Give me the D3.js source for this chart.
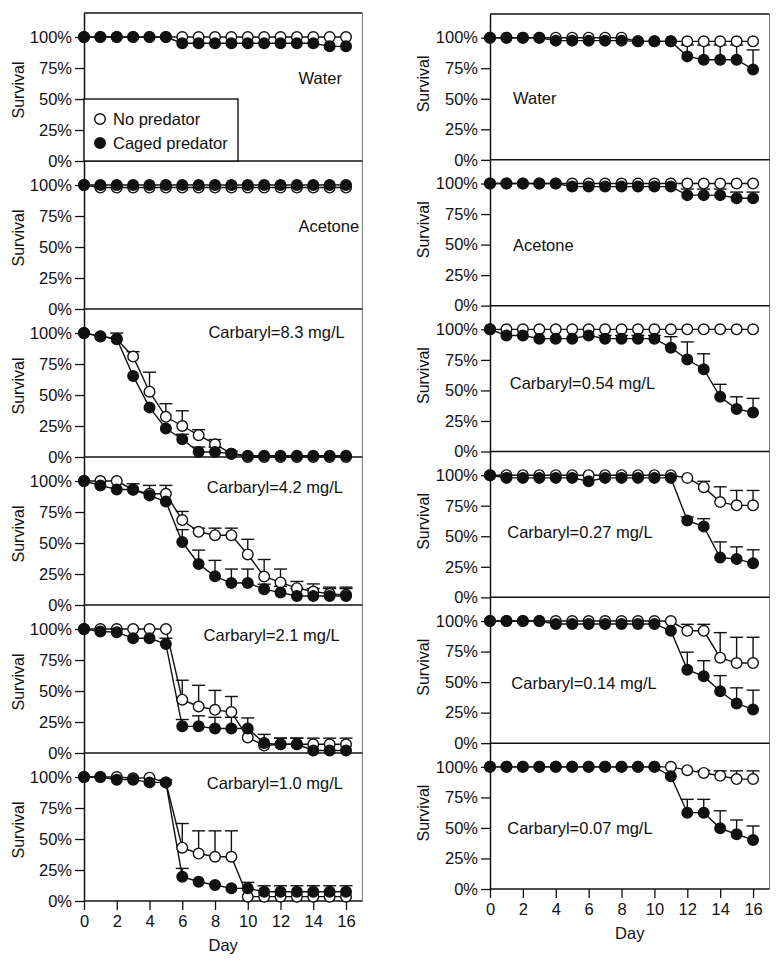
<!DOCTYPE html>
<html>
<head>
<meta charset="utf-8">
<script src="https://d3js.org/d3.v7.min.js"></script>
<style>
  html, body { margin: 0; padding: 0; background: #fff; }
  svg text { font-family: "Liberation Sans", Arial, sans-serif; font-size: 16.5px; fill: #111; }
</style>
</head>
<body>
<div id="root"></div>
<script>
// ---- data (% survival by day) ----
const days = [0, 1, 2, 3, 4, 5, 6, 7, 8, 9, 10, 11, 12, 13, 14, 15, 16];
const yTicks = [0, 25, 50, 75, 100];
const xTicks = [0, 2, 4, 6, 8, 10, 12, 14, 16];
const legendLabels = ["No predator", "Caged predator"];

const leftLabels = ["Water", "Acetone", "Carbaryl=8.3 mg/L", "Carbaryl=4.2 mg/L", "Carbaryl=2.1 mg/L", "Carbaryl=1.0 mg/L"];
const rightLabels = ["Water", "Acetone", "Carbaryl=0.54 mg/L", "Carbaryl=0.27 mg/L", "Carbaryl=0.14 mg/L", "Carbaryl=0.07 mg/L"];

// left column
const waterL_open   = [100,100,100,100,100,100,100,100,100,100,100,100,100,100,100,100,100];
const waterL_caged  = [100,100,100,100,100,100,95,95,95,95,95,95,95,95,95,92.5,92.5];
const acetL_open    = [100,98,98,98,98,98,98,98,98,98,98,98,98,98,98,98,98];
const acetL_caged   = [100,100,100,100,100,100,100,100,100,100,100,100,100,100,100,100,100];
const c83_open      = [100,97.5,95,81,52.7,32.4,25,17.6,10.3,2.7,0,0,0,0,0,0,0];
const c83_openErr   = [0,0,5,4,15.7,10.6,12.3,4.4,3.8,2,0,0,0,0,0,0,0];
const c83_caged     = [100,97.3,95.4,65.4,40,23,14.3,4,4,2.7,1,1,1,1,1,1,1];
const c83_cagedErr  = [0,0,0,0,0,0,4,4,4,0,0,0,0,0,0,0,0];
const c42_open      = [100,100,100,93,89.7,89.7,68.5,59,56.3,56.3,40.8,23,18.2,13.6,10.9,9,8.2];
const c42_openErr   = [0,0,0,4.8,6.8,6.8,7,3,5.7,5.7,12.2,13.7,10.8,5.4,6.1,5.4,6.2];
const c42_caged     = [100,96.5,93.2,93.2,88.3,83.4,50.8,33.1,23.1,17.7,17.7,12.8,10,7.3,7.3,7.3,7.3];
const c42_cagedErr  = [0,0,0,0,0,0,10,11.2,12.9,11.3,11.3,4,5,6,6,6,6];
const c21_open      = [100,100,100,100,100,100,43,37.5,34.8,33,12.5,6,7,7,7,7,7];
const c21_openErr   = [0,0,0,0,0,0,15.7,17.1,15.7,12.6,0,0,5,5,5,5,5];
const c21_caged     = [100,98,97.5,92.6,92.6,88,21.5,21.5,19.8,19.8,19.8,8,7,7,2,2,2];
const c21_cagedErr  = [0,0,0,0,0,4.6,5.5,8.5,9,9,8.5,7,5,5,0,0,0];
const c10_open      = [100,100,100,99,99.5,95.7,43,38.3,35.7,35.7,3.5,3.5,3.5,3.5,3.5,3.5,3.5];
const c10_openErr   = [0,0,0,0,0,0,19.5,18.3,20.9,20.9,0,0,0,0,0,0,0];
const c10_caged     = [100,100,97.9,97.9,95.7,95.7,19.6,15.5,12.9,10.2,10.2,7.5,7.5,7.5,7.5,7.5,7.5];
const c10_cagedErr  = [0,0,0,0,0,2,6.7,0,0,0,4.8,4.8,4.8,4.8,4.8,4.8,4.8];

// right column
const waterR_open   = [100,100,100,100,100,100,100,100,100,97,97,97,97,97,97,97,97];
const waterR_caged  = [100,100,100,100,97.6,97.6,97.6,97.6,97.6,97,97,97,84.7,82,82,82,74];
const waterR_cagedErr = [0,0,0,0,0,0,0,0,0,0,0,0,9.3,12,12,12,16];
const acetR_open    = [100,100,100,100,100,100,100,100,100,100,100,100,100,100,100,100,100];
const acetR_caged   = [100,100,100,100,100,97.5,97.5,97.5,97.5,97.5,97.5,97.5,90.5,90.5,90.5,88,88];
const acetR_cagedErr = [0,0,0,0,0,0,0,0,0,0,0,0,5,5,5,5,5];
const c054_open     = [100,100,100,100,100,100,100,100,100,100,100,100,100,100,100,100,100];
const c054_caged    = [100,95,95,92.4,92.4,92.4,95,92.4,92.4,92.4,92.4,85,75.3,67.4,44.8,34.8,32];
const c054_cagedErr = [0,0,0,0,0,0,0,2.6,2.6,2.6,2.6,9,14.4,12.6,10.2,10,11.5];
const c027_open     = [100,100,100,100,100,100,100,100,100,100,100,100,97.8,90.2,78,75.3,75.3];
const c027_openErr  = [0,0,0,0,0,0,0,0,0,0,0,0,0,4.8,12.5,12.2,12.2];
const c027_caged    = [100,97.8,97.8,97.8,97.8,97.8,95,97.8,97.8,97.8,97.8,97.8,63,57.9,32.6,31.3,28];
const c027_cagedErr = [0,0,0,0,0,0,0,0,0,0,0,0,2.8,6.5,12.8,10,10.9];
const c014_open     = [100,100,100,100,100,100,100,100,100,100,100,100,92,92,70,65.6,65.6];
const c014_openErr  = [0,0,0,0,0,0,0,0,0,0,0,0,5.3,5.3,20.5,21.1,21.1];
const c014_caged    = [100,100,100,100,97.6,97.6,97.6,97.6,97.6,97.6,97.6,92,60.2,54.7,42.5,32.5,27.6];
const c014_cagedErr = [0,0,0,0,0,0,0,0,0,0,0,0,14.3,12.8,12.8,12.8,15.8];
const c007_open     = [100,100,100,100,100,100,100,100,100,100,100,100,97.3,95,92.7,90,90];
const c007_openErr  = [0,0,0,0,0,0,0,0,0,0,0,0,0,2,4,6.7,6.7];
const c007_caged    = [100,100,100,100,100,100,100,100,100,100,100,92.4,62.5,62.5,49.7,44.8,40.2];
const c007_cagedErr = [0,0,0,0,0,0,0,0,0,0,0,0,10.9,10.9,14.3,11.7,11.4];

const none = days.map(() => 0);

const leftPanels = [
  { label: leftLabels[0], open: waterL_open, openErr: none, caged: waterL_caged, cagedErr: none, lx: 13.1, ly: 62 },
  { label: leftLabels[1], open: acetL_open, openErr: none, caged: acetL_caged, cagedErr: none, lx: 13.1, ly: 62 },
  { label: leftLabels[2], open: c83_open, openErr: c83_openErr, caged: c83_caged, cagedErr: c83_cagedErr, lx: 7.6, ly: 96 },
  { label: leftLabels[3], open: c42_open, openErr: c42_openErr, caged: c42_caged, cagedErr: c42_cagedErr, lx: 7.5, ly: 90 },
  { label: leftLabels[4], open: c21_open, openErr: c21_openErr, caged: c21_caged, cagedErr: c21_cagedErr, lx: 7.3, ly: 90 },
  { label: leftLabels[5], open: c10_open, openErr: c10_openErr, caged: c10_caged, cagedErr: c10_cagedErr, lx: 7.5, ly: 90 }
];

const rightPanels = [
  { label: rightLabels[0], open: waterR_open, openErr: none, caged: waterR_caged, cagedErr: waterR_cagedErr, lx: 1.4, ly: 46 },
  { label: rightLabels[1], open: acetR_open, openErr: none, caged: acetR_caged, cagedErr: acetR_cagedErr, lx: 1.4, ly: 45 },
  { label: rightLabels[2], open: c054_open, openErr: none, caged: c054_caged, cagedErr: c054_cagedErr, lx: 1.2, ly: 51 },
  { label: rightLabels[3], open: c027_open, openErr: c027_openErr, caged: c027_caged, cagedErr: c027_cagedErr, lx: 1.05, ly: 48.5 },
  { label: rightLabels[4], open: c014_open, openErr: c014_openErr, caged: c014_caged, cagedErr: c014_cagedErr, lx: 1.3, ly: 44 },
  { label: rightLabels[5], open: c007_open, openErr: c007_openErr, caged: c007_caged, cagedErr: c007_cagedErr, lx: 1.05, ly: 45 }
];

// ---- layout ----
const CONFIG = {
  width: 783,
  height: 962,
  yMax: 119.4,
  dotRadius: 5.3,
  capHalf: 6.5,
  columns: [
    { x0: 84, x1: 362.4, top: 13, bottom: 901, labelX: 18, legend: true },
    { x0: 490, x1: 769.5, top: 14, bottom: 889, labelX: 423, legend: false }
  ]
};

const svg = d3.select("#root")
  .append("svg")
  .attr("width", CONFIG.width)
  .attr("height", CONFIG.height);

function drawColumn(col, panels) {
  const g = svg.append("g");
  const xScale = d3.scaleLinear().domain([0, 17]).range([col.x0, col.x1]);
  const h = (col.bottom - col.top) / panels.length;

  // frame: top and right border
  g.append("line")
    .attr("x1", col.x0).attr("x2", col.x1)
    .attr("y1", col.top).attr("y2", col.top)
    .attr("stroke", "#111").attr("stroke-width", 1.4);
  g.append("line")
    .attr("x1", col.x1).attr("x2", col.x1)
    .attr("y1", col.top).attr("y2", col.bottom)
    .attr("stroke", "#777").attr("stroke-width", 1);

  panels.forEach((p, i) => {
    const yScale = d3.scaleLinear()
      .domain([0, CONFIG.yMax])
      .range([col.top + (i + 1) * h, col.top + i * h]);
    const pg = g.append("g");

    // y axis
    const yAxis = d3.axisLeft(yScale)
      .tickValues(yTicks)
      .tickFormat(d => d + "%")
      .tickSize(9)
      .tickSizeOuter(0)
      .tickPadding(3);
    const ya = pg.append("g")
      .attr("transform", `translate(${col.x0},0)`)
      .call(yAxis);
    ya.select(".domain").attr("stroke", "#111").attr("stroke-width", 1.5);
    ya.selectAll(".tick line").attr("stroke", "#111").attr("stroke-width", 1.3);
    ya.selectAll("text").attr("font-family", null).attr("fill", "#111");

    // bottom (0%) line
    pg.append("line")
      .attr("x1", col.x0).attr("x2", col.x1)
      .attr("y1", yScale(0)).attr("y2", yScale(0))
      .attr("stroke", "#111").attr("stroke-width", 1.5);

    // y label
    const cy = col.top + i * h + h / 2 + (col.legend ? 3 : -3);
    pg.append("text")
      .text("Survival")
      .attr("text-anchor", "middle")
      .style("font-size", "16px")
      .attr("transform", `translate(${col.labelX + 6},${cy}) rotate(-90)`);

    // panel label
    pg.append("text")
      .text(p.label)
      .attr("x", xScale(p.lx))
      .attr("y", yScale(p.ly));

    const line = d3.line()
      .x((d, j) => xScale(days[j]))
      .y(d => yScale(d));

    [p.open, p.caged].forEach(series => {
      pg.append("path")
        .datum(series)
        .attr("d", line)
        .attr("fill", "none")
        .attr("stroke", "#111")
        .attr("stroke-width", 1.4);
    });

    // error bars (upper only)
    [[p.open, p.openErr], [p.caged, p.cagedErr]].forEach(([vals, errs]) => {
      const pts = days.map((d, j) => ({ d, v: vals[j], e: errs[j] })).filter(o => o.e > 0);
      const eb = pg.append("g").attr("stroke", "#111").attr("stroke-width", 1.4);
      eb.selectAll("line.v").data(pts).enter().append("line")
        .attr("class", "v")
        .attr("x1", o => xScale(o.d)).attr("x2", o => xScale(o.d))
        .attr("y1", o => yScale(o.v)).attr("y2", o => yScale(o.v + o.e));
      eb.selectAll("line.c").data(pts).enter().append("line")
        .attr("class", "c")
        .attr("x1", o => xScale(o.d) - CONFIG.capHalf).attr("x2", o => xScale(o.d) + CONFIG.capHalf)
        .attr("y1", o => yScale(o.v + o.e)).attr("y2", o => yScale(o.v + o.e));
    });

    // dots
    pg.append("g").selectAll("circle")
      .data(p.open).enter().append("circle")
      .attr("cx", (d, j) => xScale(days[j]))
      .attr("cy", d => yScale(d))
      .attr("r", CONFIG.dotRadius)
      .attr("fill", "#fff").attr("stroke", "#111").attr("stroke-width", 1.4);
    pg.append("g").selectAll("circle")
      .data(p.caged).enter().append("circle")
      .attr("cx", (d, j) => xScale(days[j]))
      .attr("cy", d => yScale(d))
      .attr("r", CONFIG.dotRadius)
      .attr("fill", "#111").attr("stroke", "#111").attr("stroke-width", 1.4);

    if (i === 0 && col.legend) drawLegend(pg, xScale, yScale);

    if (i === panels.length - 1) {
      const xAxis = d3.axisBottom(xScale)
        .tickValues(xTicks)
        .tickSize(9)
        .tickSizeOuter(0)
        .tickPadding(5);
      const xa = pg.append("g")
        .attr("transform", `translate(0,${yScale(0)})`)
        .call(xAxis);
      xa.select(".domain").remove();
      xa.selectAll(".tick line").attr("stroke", "#111").attr("stroke-width", 1.3);
      xa.selectAll("text").attr("font-family", null).attr("fill", "#111");
      pg.append("text")
        .text("Day")
        .attr("text-anchor", "middle")
        .attr("x", xScale(8.5))
        .attr("y", yScale(0) + 50);
    }
  });
}

function drawLegend(pg, xScale, yScale) {
  const bx = xScale(0);
  const by = yScale(50);
  const bw = 154;
  const bh = yScale(0) - by;
  pg.append("rect")
    .attr("x", bx).attr("y", by)
    .attr("width", bw).attr("height", bh)
    .attr("fill", "#fff").attr("stroke", "#111").attr("stroke-width", 1.4);
  const items = pg.selectAll("g.legend-item")
    .data(legendLabels).enter().append("g")
    .attr("class", "legend-item")
    .attr("transform", (d, i) => `translate(${bx + 16},${by + 20 + i * 24})`);
  items.append("circle")
    .attr("r", CONFIG.dotRadius)
    .attr("fill", (d, i) => i === 0 ? "#fff" : "#111")
    .attr("stroke", "#111").attr("stroke-width", 1.4);
  items.append("text")
    .text(d => d)
    .attr("x", 13)
    .attr("dy", "0.35em");
}

drawColumn(CONFIG.columns[0], leftPanels);
drawColumn(CONFIG.columns[1], rightPanels);
</script>
</body>
</html>
